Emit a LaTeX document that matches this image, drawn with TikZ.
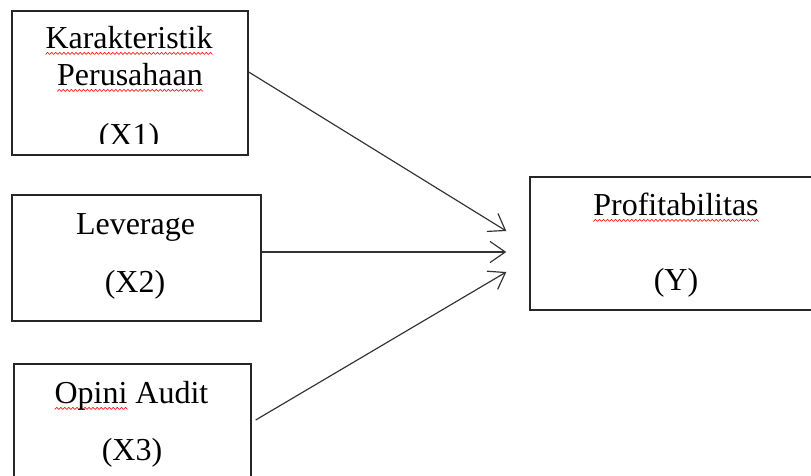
\documentclass[tikz,border=0pt]{standalone}
\usepackage{fontspec}
\setmainfont{Liberation Serif}
\usetikzlibrary{arrows.meta, calc}

% red wavy mark under a word
\newsavebox{\spellbox}
\newcommand{\wavebit}{\tikz[x=1pt, y=1pt]{\useasboundingbox (0,0) rectangle (3.4,1.8);
    \draw[red!90, line width=0.6pt, line join=round] (0,0) -- (1.7,1.8) -- (3.4,0);}}
\newcommand{\spellmark}[1]{\sbox{\spellbox}{#1}%
    \rlap{\lower5.5pt\hbox to \wd\spellbox{\xleaders\hbox{\wavebit}\hfil}}\usebox{\spellbox}}

\begin{document}
\begin{tikzpicture}[x=0.03cm, y=-0.03cm,
    box/.style={rectangle, draw=black!85, line width=1.2pt},
    lbl/.style={anchor=base, inner sep=0pt, font=\fontsize{27.3}{32}\selectfont},
    link/.style={-{Straight Barb[length=13pt, width=18pt, line width=1pt]}, line width=1pt, black!80}]

    \useasboundingbox (0,0) rectangle (811,475);

    % boxes
    \node[box, minimum width=7.08cm, minimum height=4.32cm] (x1) at (130,83) {};
    \node[box, minimum width=7.47cm, minimum height=3.78cm] (x2) at (136.5,258) {};
    \node[box, minimum width=7.11cm, minimum height=3.78cm] (x3) at (132.5,427) {};
    \node[box, minimum width=9cm, minimum height=3.99cm] (y) at (680,243.5) {};

    % texts
    \node[lbl] (x1top) at (129,48) {\spellmark{Karakteristik}};
    \node[lbl] (x1mid) at (130,85) {\spellmark{Perusahaan}};
    \begin{scope}
        \clip (12,11) rectangle (248,143);
        \node[lbl] (x1bot) at (129,145) {(X1)};
    \end{scope}
    \node[lbl] (x2top) at (135.5,234) {Leverage};
    \node[lbl] (x2bot) at (135,292) {(X2)};
    \node[lbl] (x3top) at (131.5,403) {\spellmark{Opini} Audit};
    \node[lbl] (x3bot) at (132,460) {(X3)};
    \node[lbl] (ytop) at (676,215) {\spellmark{Profitabilitas}};
    \node[lbl] (ybot) at (676,290) {(Y)};

    % arrows
    \draw[link] ($(x1.east)+(0,-11)$) -- ($(y.west)+(-23,-12.5)$);
    \draw[link] ($(x2.east)+(0,-6)$) -- ($(y.west)+(-23,8.5)$);
    \draw[link] ($(x3.east)+(4,-7)$) -- ($(y.west)+(-23,28.5)$);
\end{tikzpicture}
\end{document}
